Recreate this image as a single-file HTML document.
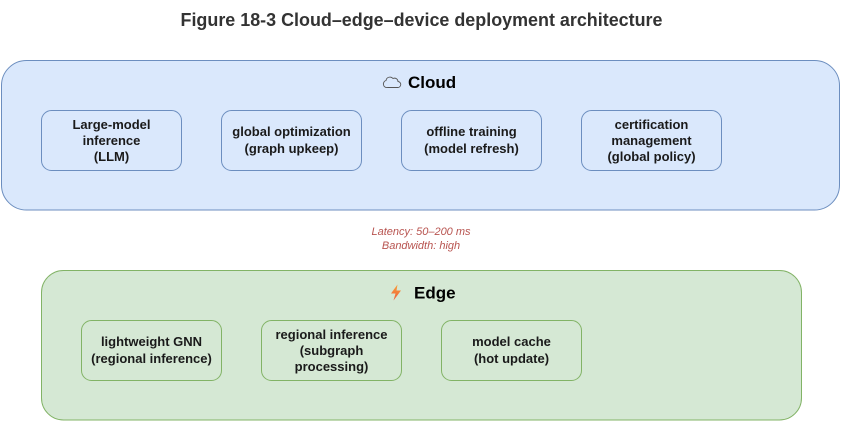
<!DOCTYPE html>
<html><head><meta charset="utf-8"><style>
html,body{margin:0;padding:0;background:#fff;}
svg{display:block;}
text{font-family:"Liberation Sans",Arial,sans-serif;}
</style></head><body>
<svg width="844" height="423" viewBox="0 0 844 423" xmlns="http://www.w3.org/2000/svg">
<defs>
<linearGradient id="bolt" x1="0" y1="0" x2="0" y2="1">
<stop offset="0" stop-color="#f7a23b"/><stop offset="1" stop-color="#ef5a3a"/>
</linearGradient>
</defs>
<text x="421.5" y="26" text-anchor="middle" font-size="18" font-weight="bold" fill="#333" textLength="482" lengthAdjust="spacingAndGlyphs">Figure 18-3 Cloud–edge–device deployment architecture</text>

<rect x="1.5" y="60.5" width="838" height="149.5" rx="25" ry="25" fill="#dae8fc" stroke="#6c8ebf" stroke-width="1"/>
<path d="M387.5 87.5 h10 a3 3 0 0 0 0.5 -6 a3.5 3.5 0 0 0 -5 -3 a4 4 0 0 0 -7 2 a3 3.2 0 0 0 1.5 7z" fill="none" stroke="#555" stroke-width="0.9"/>
<text x="408" y="88" font-size="17" font-weight="bold" fill="#000">Cloud</text>

<g font-size="13" font-weight="bold" fill="#1a1a1a" text-anchor="middle">
<rect x="41.5" y="110.5" width="140" height="60" rx="10" fill="#dae8fc" stroke="#6c8ebf"/>
<text x="111.5" y="129">Large-model</text><text x="111.5" y="145">inference</text><text x="111.5" y="161">(LLM)</text>
<rect x="221.5" y="110.5" width="140" height="60" rx="10" fill="#dae8fc" stroke="#6c8ebf"/>
<text x="291.5" y="136">global optimization</text><text x="291.5" y="153">(graph upkeep)</text>
<rect x="401.5" y="110.5" width="140" height="60" rx="10" fill="#dae8fc" stroke="#6c8ebf"/>
<text x="471.5" y="136">offline training</text><text x="471.5" y="153">(model refresh)</text>
<rect x="581.5" y="110.5" width="140" height="60" rx="10" fill="#dae8fc" stroke="#6c8ebf"/>
<text x="651.5" y="129">certification</text><text x="651.5" y="145">management</text><text x="651.5" y="161">(global policy)</text>
</g>

<g font-size="11" font-style="italic" fill="#b85450" text-anchor="middle">
<text x="421" y="235">Latency: 50–200 ms</text>
<text x="421" y="249">Bandwidth: high</text>
</g>

<rect x="41.5" y="270.5" width="760" height="149.5" rx="22" ry="22" fill="#d5e8d4" stroke="#82b366" stroke-width="1"/>
<path d="M397.5 284.5 L391 293.5 L395.5 293.5 L393.5 300.5 L401 290.5 L396.5 290.5 Z" fill="url(#bolt)"/>
<text x="414" y="298.5" font-size="17" font-weight="bold" fill="#000">Edge</text>

<g font-size="13" font-weight="bold" fill="#1a1a1a" text-anchor="middle">
<rect x="81.5" y="320.5" width="140" height="60" rx="10" fill="#d5e8d4" stroke="#82b366"/>
<text x="151.5" y="346">lightweight GNN</text><text x="151.5" y="363">(regional inference)</text>
<rect x="261.5" y="320.5" width="140" height="60" rx="10" fill="#d5e8d4" stroke="#82b366"/>
<text x="331.5" y="339">regional inference</text><text x="331.5" y="355">(subgraph</text><text x="331.5" y="371">processing)</text>
<rect x="441.5" y="320.5" width="140" height="60" rx="10" fill="#d5e8d4" stroke="#82b366"/>
<text x="511.5" y="346">model cache</text><text x="511.5" y="363">(hot update)</text>
</g>
</svg>
</body></html>
